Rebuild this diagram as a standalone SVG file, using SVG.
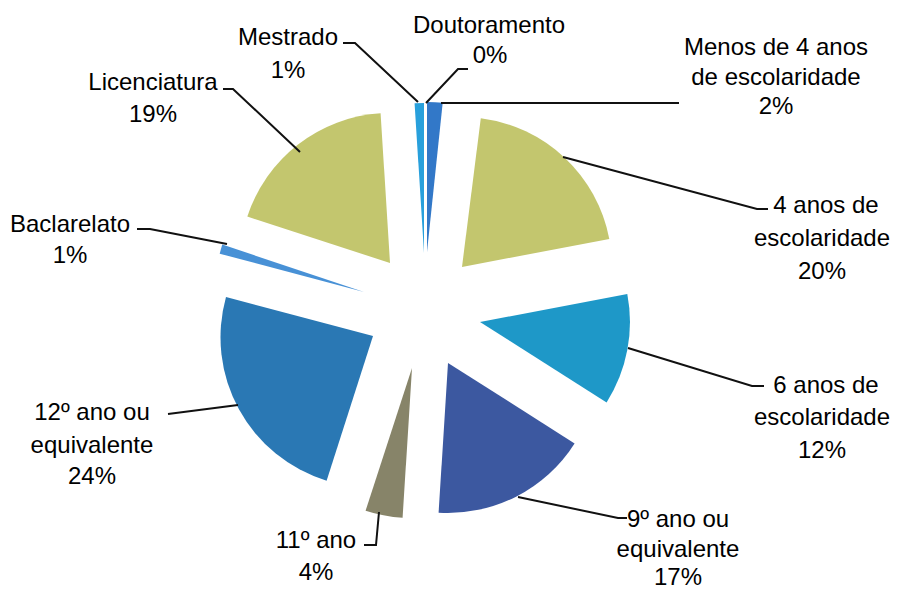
<svg xmlns="http://www.w3.org/2000/svg" width="903" height="591" viewBox="0 0 903 591">
<style>
text{font-family:"Liberation Sans",Arial,sans-serif;font-size:24px;fill:#000;text-anchor:middle}
.ld{fill:none;stroke:#111;stroke-width:2}
</style>
<rect width="903" height="591" fill="#fff"/>
<g id="slices">
<g id="menos"><path d="M427,252 L427,102 A150,150 0 0 1 442.7,102.8 Z" fill="#3278c8"/></g>
<g id="quatro"><path d="M462,267 L480.8,118.2 A150,150 0 0 1 609.3,238.9 Z" fill="#c3c66e"/></g>
<g id="seis"><path d="M480,322 L627.3,293.9 A150,150 0 0 1 606.6,402.4 Z" fill="#1e98c8"/></g>
<g id="nono"><path d="M448,363 L574.6,443.4 A150,150 0 0 1 438.6,512.7 Z" fill="#3c58a0"/></g>
<g id="onze"><path d="M412,368 L402.6,517.7 A150,150 0 0 1 365.6,510.7 Z" fill="#878469"/></g>
<g id="doze"><path d="M373,336 L326.6,480.7 A150,150 0 0 1 226,297 Z" fill="#2a78b4"/></g>
<g id="bach"><path d="M364,292 L219.7,253.7 A150,150 0 0 1 222.3,244.6 Z" fill="#4891d6"/></g>
<g id="lic"><path d="M390,263 L247.3,216.6 A150,150 0 0 1 380.6,113.3 Z" fill="#c3c66e"/></g>
<g id="mestrado"><path d="M424,253 L414.6,103.3 A150,150 0 0 1 424,103 Z" fill="#28a0dc"/></g>
</g>
<g id="connectors">
<path class="ld" d="M343,43 L355,43 L418,102"/>
<path class="ld" d="M468,69 L458,69 L426,103"/>
<path class="ld" d="M441,103 L679,103"/>
<path class="ld" d="M563,157 L757,209 L768,209"/>
<path class="ld" d="M628,348 L752,386 L764,386"/>
<path class="ld" d="M518,497 L618,518 L627,518"/>
<path class="ld" d="M379,512 L376,545 L364,545"/>
<path class="ld" d="M238,405 L168,414"/>
<path class="ld" d="M137,229 L150,229 L227,244"/>
<path class="ld" d="M223,89 L233,89 L300,152"/>
</g>
<g id="labels">
<g id="l-mestrado"><text x="288" y="45">Mestrado</text><text x="288" y="78">1%</text></g>
<g id="l-dout"><text x="489" y="33">Doutoramento</text><text x="490" y="63">0%</text></g>
<g id="l-menos"><text x="776" y="55">Menos de 4 anos</text><text x="776" y="85">de escolaridade</text><text x="776" y="114">2%</text></g>
<g id="l-quatro"><text x="826" y="213">4 anos de</text><text x="822" y="246">escolaridade</text><text x="822" y="279">20%</text></g>
<g id="l-seis"><text x="826" y="393">6 anos de</text><text x="822" y="425">escolaridade</text><text x="822" y="458">12%</text></g>
<g id="l-nono"><text x="678" y="527">9º ano ou</text><text x="678" y="557">equivalente</text><text x="678" y="585">17%</text></g>
<g id="l-onze"><text x="316" y="548">11º ano</text><text x="316" y="580">4%</text></g>
<g id="l-doze"><text x="92" y="420">12º ano ou</text><text x="92" y="453">equivalente</text><text x="92" y="484">24%</text></g>
<g id="l-bach"><text x="70" y="232">Baclarelato</text><text x="70" y="263">1%</text></g>
<g id="l-lic"><text x="153" y="90">Licenciatura</text><text x="153" y="122">19%</text></g>
</g>
</svg>
